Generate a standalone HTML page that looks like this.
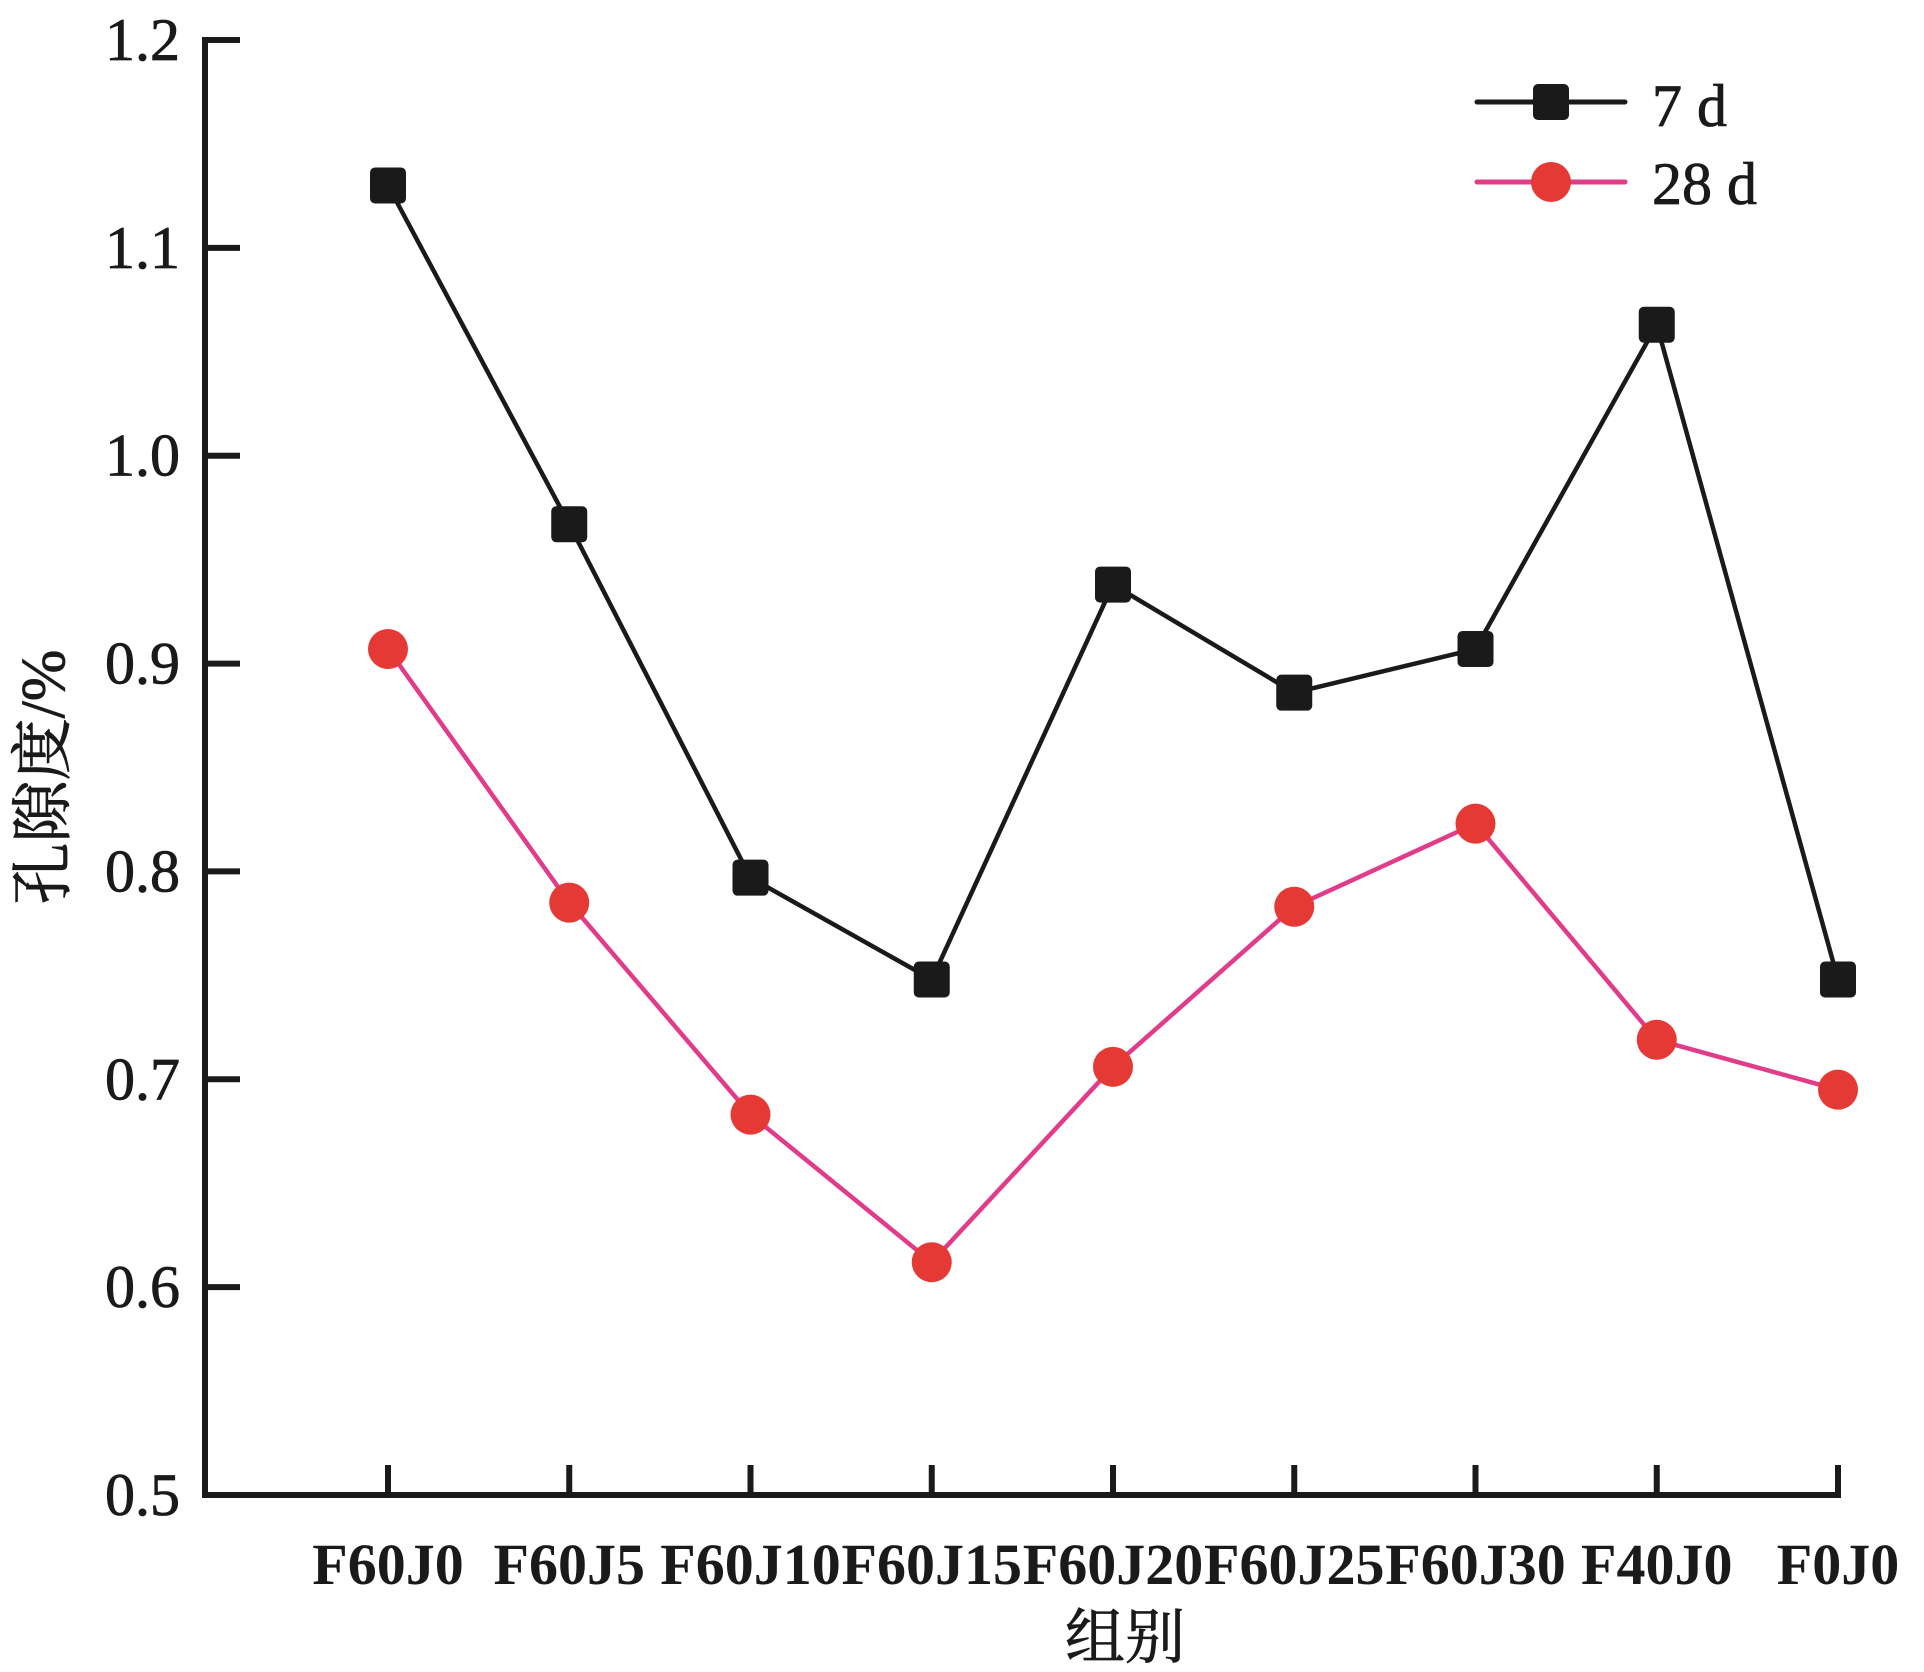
<!DOCTYPE html>
<html><head><meta charset="utf-8">
<style>
html,body{margin:0;padding:0;background:#fff;}
svg{display:block;}
text{font-family:"Liberation Serif","Noto Serif CJK SC",serif;fill:#1a1a1a;}
</style></head>
<body>
<svg id="chart" width="1924" height="1672" viewBox="0 0 1924 1672">
  <g id="axes"></g>
  <g id="series"></g>
  <g id="legend">
    <line x1="1477" y1="102" x2="1625" y2="102" stroke="#1a1a1a" stroke-width="5" stroke-linecap="round"/>
    <rect x="1533" y="84" width="36" height="36" rx="5" fill="#1a1a1a"/>
    <text x="1652" y="126" font-size="60" stroke="#1a1a1a" stroke-width="0.8">7 d</text>
    <line x1="1477" y1="182" x2="1625" y2="182" stroke="#e03c8a" stroke-width="5" stroke-linecap="round"/>
    <circle cx="1551" cy="182" r="20" fill="#e53935"/>
    <text x="1652" y="204" font-size="60" stroke="#1a1a1a" stroke-width="0.8">28 d</text>
  </g>
  <text x="64" y="777" font-size="62" text-anchor="middle" stroke="#1a1a1a" stroke-width="0.8" transform="rotate(-90 64 777)">孔隙度/%</text>
  <text x="1125" y="1658" font-size="60" text-anchor="middle" stroke="#1a1a1a" stroke-width="0.8">组别</text>
</svg>
<script>
const categories = ["F60J0","F60J5","F60J10","F60J15","F60J20","F60J25","F60J30","F40J0","F0J0"];
const series7d = [1.13, 0.967, 0.797, 0.748, 0.938, 0.886, 0.907, 1.063, 0.748];
const series28d = [0.907, 0.785, 0.683, 0.612, 0.706, 0.783, 0.823, 0.719, 0.695];
const yTicks = [0.5, 0.6, 0.7, 0.8, 0.9, 1.0, 1.1, 1.2];
const yTickLabels = ["0.5","0.6","0.7","0.8","0.9","1.0","1.1","1.2"];

const NS = "http://www.w3.org/2000/svg";
const X0 = 205, YB = 1495, YT = 40, YMIN = 0.5, YMAX = 1.2;
const XF = 388, XL = 1838;
function xPos(i){ return XF + i*(XL-XF)/(categories.length-1); }
function yPos(v){ return YB - (v-YMIN)/(YMAX-YMIN)*(YB-YT); }
function mk(tag, attrs, parent){
  const e = document.createElementNS(NS, tag);
  for (const k in attrs) e.setAttribute(k, attrs[k]);
  parent.appendChild(e);
  return e;
}
const axes = document.getElementById('axes');
const ser = document.getElementById('series');

let el = mk('line', {x1:X0, y1:YT-3, x2:X0, y2:YB+3, stroke:'#1a1a1a', 'stroke-width':6}, axes);


el = mk('line', {x1:X0-3, y1:YB, x2:XL+3, y2:YB, stroke:'#1a1a1a', 'stroke-width':6}, axes);



yTicks.forEach((v, i) => {
  const y = yPos(v);
  const t = mk('line', {x1:X0, y1:y, x2:X0+35, y2:y, stroke:'#1a1a1a', 'stroke-width':6}, axes);
  
  
  const lb = mk('text', {x:180, y:y+20, 'font-size':60, 'text-anchor':'end', stroke:'#1a1a1a', 'stroke-width':0.8}, axes);
  lb.textContent = yTickLabels[i];
  
  
});
categories.forEach((c, i) => {
  const x = xPos(i);
  const t = mk('line', {x1:x, y1:YB, x2:x, y2:YB-30, stroke:'#1a1a1a', 'stroke-width':6}, axes);
  
  
  const lb = mk('text', {x:x, y:1584, 'font-size':58, 'font-weight':'bold', 'text-anchor':'middle'}, axes);
  lb.textContent = c;
  
  
});

function drawSeries(vals, color, markerColor, kind, name){
  const pts = vals.map((v,i)=> xPos(i)+','+yPos(v)).join(' ');
  const pl = mk('polyline', {points:pts, fill:'none', stroke:color, 'stroke-width':4.5, 'stroke-linejoin':'round'}, ser);
  
  
  vals.forEach((v,i)=>{
    const x = xPos(i), y = yPos(v);
    let m;
    if (kind === 'square') m = mk('rect', {x:x-18, y:y-18, width:36, height:36, rx:5, fill:markerColor}, ser);
    else m = mk('circle', {cx:x, cy:y, r:20, fill:markerColor}, ser);
    
    
  });
}
drawSeries(series28d, '#e03c8a', '#e53935', 'circle', 'series-28d');
drawSeries(series7d, '#1a1a1a', '#1a1a1a', 'square', 'series-7d');
</script>
</body></html>
